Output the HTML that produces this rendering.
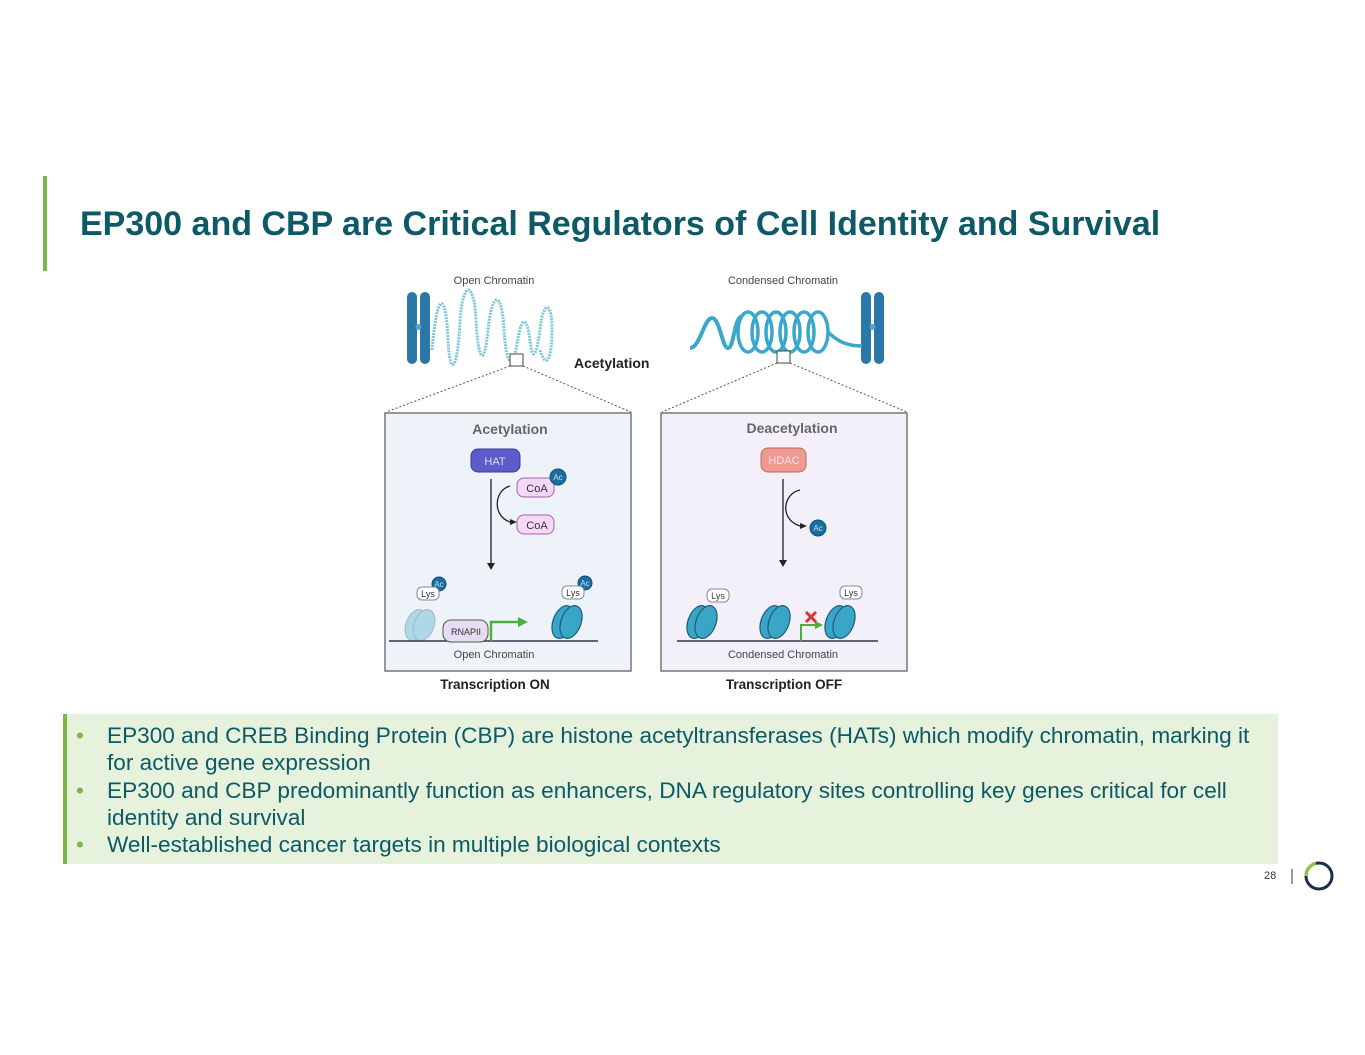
<!DOCTYPE html>
<html><head><meta charset="utf-8"><style>
body{margin:0;width:1365px;height:1055px;background:#fff;position:relative;overflow:hidden;font-family:"Liberation Sans",Arial,sans-serif}
.bar{position:absolute;left:43px;top:176px;width:4px;height:95px;background:#7ab648}
h1{position:absolute;left:80px;top:205px;margin:0;font-size:34px;font-weight:bold;color:#0d5a66;white-space:nowrap}
.box{position:absolute;left:63px;top:714px;width:1215px;height:150px;background:#e6f2db;border-left:4px solid #7ab648;box-sizing:border-box}
.box ul{margin:0;padding:8px 0 0 0;list-style:none}
.box li{position:relative;padding-left:40px;padding-right:10px;font-size:22.6px;line-height:27.3px;color:#0b5a66}
.box li:before{content:"•";position:absolute;left:9px;color:#7ab648}
.pg{position:absolute;left:1264px;top:870px;font-size:11px;color:#333}
</style></head><body>
<div class="bar"></div>
<h1>EP300 and CBP are Critical Regulators of Cell Identity and Survival</h1>
<svg style="position:absolute;left:0;top:0" width="1365" height="1055" font-family="Liberation Sans,Arial,sans-serif">
<text x="494" y="284" font-size="11" fill="#444" text-anchor="middle">Open Chromatin</text>
<text x="783" y="284" font-size="11" fill="#444" text-anchor="middle">Condensed Chromatin</text>
<g fill="#2a77a8">
<rect x="407" y="292" width="10" height="72" rx="5"/><rect x="420" y="292" width="10" height="72" rx="5"/>
<rect x="861" y="292" width="10" height="72" rx="5"/><rect x="874" y="292" width="10" height="72" rx="5"/>
</g>
<g fill="#5aa0c8"><circle cx="418.5" cy="327" r="3"/><circle cx="872.5" cy="327" r="3"/></g>
<path d="M432 350 c5-60 14-60 16-10 c2 40 10 30 12-20 c3-40 14-40 16 0 c2 40 8 50 12 10 c4-40 14-40 16 0 c2 30 6 40 12 20 c4-30 10-40 14-10 c2 20 6 20 10-10 c3-30 12-30 12 0 c0 30 -6 40 -12 20" fill="none" stroke="#7cc6dc" stroke-width="3" stroke-dasharray="2 1"/>
<path d="M690 348 c10 0 14-30 22-30 c8 0 10 30 16 30 c6 0 6-30 14-32" fill="none" stroke="#3aa7cc" stroke-width="4"/>
<g fill="none" stroke="#3aa7cc" stroke-width="3.5">
<ellipse cx="748" cy="332" rx="10" ry="20"/><ellipse cx="762" cy="332" rx="10" ry="20"/><ellipse cx="776" cy="332" rx="10" ry="20"/><ellipse cx="790" cy="332" rx="10" ry="20"/><ellipse cx="804" cy="332" rx="10" ry="20"/><ellipse cx="818" cy="332" rx="10" ry="20"/>
<path d="M828 332 c10 10 20 14 34 14"/></g>
<rect x="510" y="354" width="13" height="12" fill="#fff" stroke="#444"/>
<rect x="777" y="351" width="13" height="12" fill="#fff" stroke="#444"/>
<text x="574" y="368" font-size="14" font-weight="bold" fill="#222">Acetylation</text>
<g stroke="#555" stroke-dasharray="2 2" fill="none"><path d="M510 366 L386 412 M523 366 L631 412 M777 363 L662 412 M790 363 L907 412"/></g>
<rect x="385" y="413" width="246" height="258" fill="#eef3fa" stroke="#777" stroke-width="1.5"/>
<rect x="661" y="413" width="246" height="258" fill="#f3f0f9" stroke="#777" stroke-width="1.5"/>
<text x="510" y="434" font-size="14" font-weight="bold" fill="#666" text-anchor="middle">Acetylation</text>
<text x="792" y="433" font-size="14" font-weight="bold" fill="#666" text-anchor="middle">Deacetylation</text>
<rect x="471" y="449" width="49" height="23" rx="7" fill="#5c5ccc" stroke="#3a3a99"/>
<text x="495" y="465" font-size="11" fill="#ddd" text-anchor="middle">HAT</text>
<rect x="761" y="448" width="45" height="24" rx="7" fill="#ee9a90" stroke="#c06a60"/>
<text x="784" y="464" font-size="11" fill="#fde" text-anchor="middle">HDAC</text>
<g stroke="#222" stroke-width="1.3" fill="none">
<path d="M491 479 V565"/><path d="M510 486 c-16 4 -18 30 0 36"/>
<path d="M783 479 V562"/><path d="M800 490 c-18 4 -20 30 0 36"/></g>
<g fill="#222"><path d="M487 563 l4 7 4-7z"/><path d="M779 560 l4 7 4-7z"/><path d="M510 519 l7 3 -7 3z"/><path d="M800 523 l7 3 -7 3z"/></g>
<g fill="#f5d8f5" stroke="#a060b0"><rect x="517" y="478" width="37" height="19" rx="7"/><rect x="517" y="515" width="37" height="19" rx="7"/></g>
<text x="537" y="492" font-size="11" fill="#333" text-anchor="middle">CoA</text>
<text x="537" y="529" font-size="11" fill="#333" text-anchor="middle">CoA</text>
<g fill="#1a6fa0" stroke="#0d4f7a"><circle cx="558" cy="477" r="8"/><circle cx="818" cy="528" r="8"/><circle cx="439" cy="584" r="7"/><circle cx="585" cy="583" r="7"/></g>
<g font-size="8" fill="#cde" text-anchor="middle"><text x="558" y="480">Ac</text><text x="818" y="531">Ac</text><text x="439" y="587">Ac</text><text x="585" y="586">Ac</text></g>
<g stroke="#334" stroke-width="1.5" fill="none">
<path d="M389 641 H598"/><path d="M677 641 H878"/></g>
<g stroke="#1d5a80" stroke-width="1.2">
<g opacity=".35" fill="#3aa6c6"><ellipse cx="416" cy="625" rx="10" ry="16" transform="rotate(20 416 625)"/><ellipse cx="424" cy="625" rx="10" ry="16" transform="rotate(20 424 625)"/></g>
<g fill="#3aa6c6">
<ellipse cx="563" cy="622" rx="10" ry="17" transform="rotate(20 563 622)"/><ellipse cx="571" cy="622" rx="10" ry="17" transform="rotate(20 571 622)"/>
<ellipse cx="698" cy="622" rx="10" ry="17" transform="rotate(20 698 622)"/><ellipse cx="706" cy="622" rx="10" ry="17" transform="rotate(20 706 622)"/>
<ellipse cx="771" cy="622" rx="10" ry="17" transform="rotate(20 771 622)"/><ellipse cx="779" cy="622" rx="10" ry="17" transform="rotate(20 779 622)"/>
<ellipse cx="836" cy="622" rx="10" ry="17" transform="rotate(20 836 622)"/><ellipse cx="844" cy="622" rx="10" ry="17" transform="rotate(20 844 622)"/></g></g>
<g fill="#fff" stroke="#7a8aa0"><rect x="417" y="587" width="22" height="13" rx="5"/><rect x="562" y="586" width="22" height="13" rx="5"/><rect x="707" y="589" width="22" height="13" rx="5"/><rect x="840" y="586" width="22" height="13" rx="5"/></g>
<g font-size="9" fill="#333" text-anchor="middle"><text x="428" y="597">Lys</text><text x="573" y="596">Lys</text><text x="718" y="599">Lys</text><text x="851" y="596">Lys</text></g>
<rect x="443" y="620" width="45" height="22" rx="8" fill="#e6ddf5" stroke="#554"/>
<text x="466" y="635" font-size="9" fill="#333" text-anchor="middle">RNAPII</text>
<path d="M491 641 V622 H520" stroke="#4caf3a" stroke-width="2.5" fill="none"/><path d="M518 617 l10 5 -10 5z" fill="#4caf3a"/>
<path d="M801 641 V625 H815" stroke="#4caf3a" stroke-width="2" fill="none"/><path d="M815 621 l8 4 -8 4z" fill="#4caf3a"/>
<path d="M806 612 l10 10 M816 612 l-10 10" stroke="#e03030" stroke-width="3"/>
<text x="494" y="658" font-size="11" fill="#444" text-anchor="middle">Open Chromatin</text>
<text x="783" y="658" font-size="11" fill="#444" text-anchor="middle">Condensed Chromatin</text>
<text x="495" y="689" font-size="13.5" font-weight="bold" fill="#222" text-anchor="middle">Transcription ON</text>
<text x="784" y="689" font-size="13.5" font-weight="bold" fill="#222" text-anchor="middle">Transcription OFF</text>
<line x1="1292" y1="869" x2="1292" y2="884" stroke="#333"/>
<circle cx="1319" cy="876" r="13" fill="none" stroke="#1b2d4a" stroke-width="3"/>
<path d="M1306 876 A13 13 0 0 1 1316 863.4" fill="none" stroke="#8cc63f" stroke-width="3"/>
</svg>
<div class="box"><ul>
<li>EP300 and CREB Binding Protein (CBP) are histone acetyltransferases (HATs) which modify chromatin, marking it for active gene expression</li>
<li>EP300 and CBP predominantly function as enhancers, DNA regulatory sites controlling key genes critical for cell identity and survival</li>
<li>Well-established cancer targets in multiple biological contexts</li>
</ul></div>
<div class="pg">28</div>
</body></html>
